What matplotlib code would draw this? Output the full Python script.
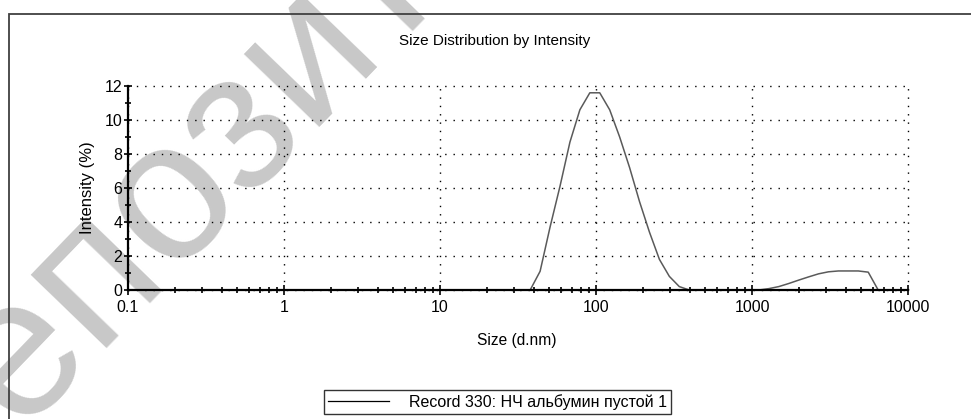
import numpy as np
import matplotlib
matplotlib.use("Agg")
import matplotlib.pyplot as plt
from matplotlib.ticker import FixedLocator, NullFormatter, FixedFormatter
from matplotlib.patches import Rectangle

plt.rcParams['font.family'] = ['Liberation Sans', 'DejaVu Sans']

# ---- data (Malvern size bins, d.nm) ----
size_nm = [37.84, 43.82, 50.75, 58.77, 68.06, 78.82, 91.28, 105.7, 122.4, 141.8,
           164.2, 190.1, 220.2, 255.0, 295.3, 342.0, 396.1, 458.7, 531.2, 615.1,
           712.4, 825.0, 955.4, 1106, 1281, 1484, 1718, 1990, 2305, 2669, 3091,
           3580, 4145, 4801, 5560, 6439]
intensity_pct = [0.0, 1.1, 3.7, 6.1, 8.7, 10.6, 11.6, 11.6, 10.6, 9.0,
                 7.2, 5.2, 3.4, 1.8, 0.8, 0.2, 0.0, 0.0, 0.0, 0.0,
                 0.0, 0.0, 0.0, 0.0, 0.08, 0.2, 0.38, 0.58, 0.77, 0.95, 1.07,
                 1.12, 1.12, 1.12, 1.05, 0.0]
series_label = "Record 330: НЧ альбумин пустой 1"
x_major = [0.1, 1, 10, 100, 1000, 10000]
x_major_labels = ["0.1", "1", "10", "100", "1000", "10000"]
y_major = [0, 2, 4, 6, 8, 10, 12]
y_minor = [1, 3, 5, 7, 9, 11]
title = "Size Distribution by Intensity"
xlabel = "Size (d.nm)"
ylabel = "Intensity (%)"
watermark = "Репозиторий"

W, H = 971, 419
fig = plt.figure(figsize=(W / 100, H / 100), dpi=100)

# watermark (behind everything)
fig.text(-0.0718, -0.225, watermark, fontsize=143, color='#c8c8c8',
         rotation=46, rotation_mode='anchor', ha='left', va='baseline',
         zorder=-5)

# outer frame (clipped by figure edges on right/bottom)
fig.patches.append(Rectangle((8.5 / W, -0.2), 2.0, 1 - 14.5 / H + 0.2,
                             transform=fig.transFigure, fill=False,
                             edgecolor='#404040', linewidth=1.3, zorder=-1))

ax = fig.add_axes([128 / W, 1 - 290 / H, 780 / W, 204 / H])
ax.set_facecolor('none')
ax.set_xscale('log')
ax.set_xlim(0.1, 10000)
ax.set_ylim(0, 12)

ax.plot(size_nm, intensity_pct, color='#5a5a5a', linewidth=1.1, zorder=2,
        label=series_label)

for s in ['top', 'right']:
    ax.spines[s].set_visible(False)
for s in ['left', 'bottom']:
    ax.spines[s].set_linewidth(1.6)
    ax.spines[s].set_color('black')
    ax.spines[s].set_zorder(3)

ax.xaxis.set_major_locator(FixedLocator(x_major))
ax.xaxis.set_major_formatter(FixedFormatter(x_major_labels))
minors = [m * d for d in x_major[:-1] for m in range(2, 10)]
ax.xaxis.set_minor_locator(FixedLocator(minors))
ax.xaxis.set_minor_formatter(NullFormatter())
ax.yaxis.set_major_locator(FixedLocator(y_major))
ax.yaxis.set_minor_locator(FixedLocator(y_minor))

ax.tick_params(axis='both', which='both', direction='inout', colors='black',
               labelsize=11.5, width=1.2)
ax.tick_params(axis='x', which='major', length=7, pad=4)
ax.tick_params(axis='x', which='minor', length=4.5)
ax.tick_params(axis='y', which='major', length=6, pad=1)
ax.tick_params(axis='y', which='minor', length=5)

ax.grid(True, which='major', color='black', linestyle=(0, (1, 5)), linewidth=1.0)
for gl in ax.get_xgridlines() + ax.get_ygridlines():
    gl.set_clip_on(False)
ax.set_axisbelow(True)

fig.text(495 / W, 1 - 41 / H, title, ha='center', va='center', fontsize=11)
fig.text(517 / W, 1 - 340 / H, xlabel, ha='center', va='center', fontsize=11.2)
fig.text(87 / W, 1 - 188 / H, ylabel, ha='center', va='center', fontsize=12,
         rotation=90)

leg = fig.legend(handles=ax.get_lines(), labels=[series_label],
                 loc='center', bbox_to_anchor=(497.5 / W, 1 - 402 / H),
                 fontsize=11.5, frameon=True, fancybox=False, shadow=False,
                 handlelength=3.8, handletextpad=1.25, borderpad=0.25,
                 borderaxespad=0)
leg.get_frame().set_edgecolor('black')
leg.get_frame().set_linewidth(1.0)
leg.get_lines()[0].set_color('black')
leg.get_lines()[0].set_linewidth(0.9)

fig.savefig('out.png', dpi=100)
